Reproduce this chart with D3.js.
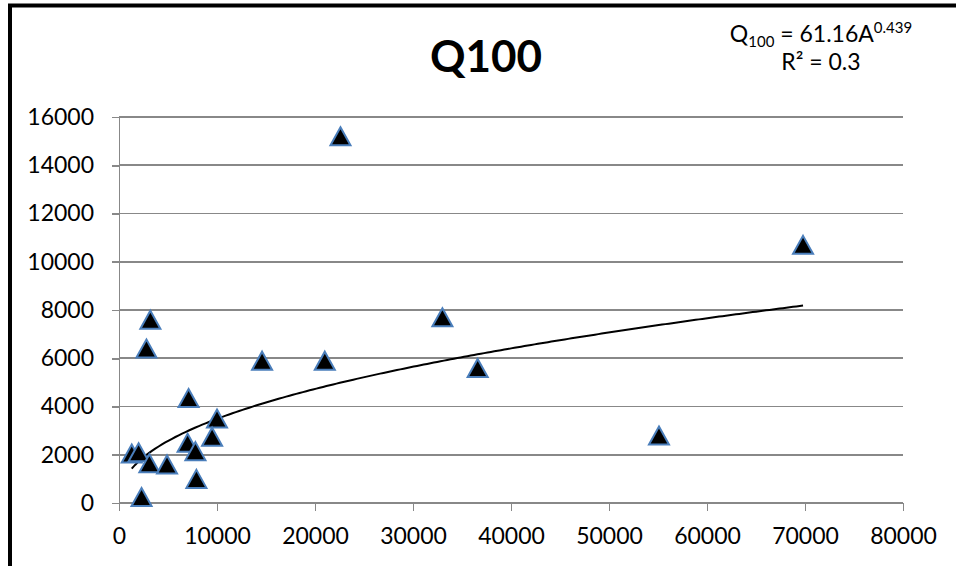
<!DOCTYPE html>
<html lang="en">
<head>
    <meta charset="UTF-8">
    <title>Q100</title>
    <script src="https://cdn.jsdelivr.net/npm/d3@7"></script>
    <style>
        body {
            margin: 0;
            background: #fff;
        }
        text {
            font-family: Lato, "Open Sans", sans-serif;
            fill: #000;
        }
        .grid line {
            stroke: #888;
            stroke-width: 1.6px;
            shape-rendering: crispEdges;
        }
        .axis path,
        .axis line {
            fill: none;
            stroke: #888;
            stroke-width: 1.6px;
            shape-rendering: crispEdges;
        }
        .axis text {
            font-size: 23px;
        }
    </style>
</head>
<body>
<script>
    // drainage area (x) and Q100 (y)
    var area = [22600, 69800, 3200, 33000, 2800, 14600, 21000, 36600, 7100, 10000,
                9500, 7000, 7800, 1300, 2000, 3100, 4900, 7900, 2300, 55100];
    var q100 = [15200, 10700, 7600, 7700, 6400, 5900, 5900, 5600, 4350, 3500,
                2750, 2500, 2150, 2050, 2100, 1650, 1600, 1000, 250, 2800];

    var xTicks = [0, 10000, 20000, 30000, 40000, 50000, 60000, 70000, 80000];
    var yTicks = [0, 2000, 4000, 6000, 8000, 10000, 12000, 14000, 16000];

    // power trendline from the equation on the chart
    var coefA = 61.16, expB = 0.439, rSquared = 0.3;

    var width = 956, height = 566;
    var plot = {left: 119, right: 903, top: 117, bottom: 503};

    var svg = d3.select("body").append("svg")
            .attr("width", width)
            .attr("height", height);

    // outer chart frame (only top and left edges show in the crop)
    svg.append("path")
            .attr("d", "M10,570 L10,5.5 L960,5.5")
            .attr("fill", "none")
            .attr("stroke", "#000")
            .attr("stroke-width", 4);

    var x = d3.scaleLinear().domain([0, 80000]).range([plot.left, plot.right]);
    var y = d3.scaleLinear().domain([0, 16000]).range([plot.bottom, plot.top]);

    // horizontal gridlines
    svg.append("g")
            .attr("class", "grid")
            .selectAll("line")
            .data(yTicks)
            .enter().append("line")
            .attr("x1", plot.left)
            .attr("x2", plot.right)
            .attr("y1", function (d) { return y(d); })
            .attr("y2", function (d) { return y(d); });

    var yAxis = d3.axisLeft(y)
            .tickValues(yTicks)
            .tickFormat(d3.format("d"))
            .tickSizeInner(7)
            .tickSizeOuter(0)
            .tickPadding(18);

    var xAxis = d3.axisBottom(x)
            .tickValues(xTicks)
            .tickFormat(d3.format("d"))
            .tickSizeInner(8)
            .tickSizeOuter(0)
            .tickPadding(17);

    svg.append("g")
            .attr("class", "y axis")
            .attr("transform", "translate(" + plot.left + ",0)")
            .call(yAxis);

    svg.append("g")
            .attr("class", "x axis")
            .attr("transform", "translate(0," + plot.bottom + ")")
            .call(xAxis);

    // trendline over the range of the data
    var xMin = d3.min(area), xMax = d3.max(area);
    var trend = d3.range(0, 201).map(function (i) {
        var a = xMin + (xMax - xMin) * i / 200;
        return [a, coefA * Math.pow(a, expB)];
    });

    svg.append("path")
            .datum(trend)
            .attr("fill", "none")
            .attr("stroke", "#000")
            .attr("stroke-width", 2)
            .attr("d", d3.line()
                    .x(function (d) { return x(d[0]); })
                    .y(function (d) { return y(d[1]); }));

    // triangle markers
    var tw = 20, th = 18;
    svg.append("g")
            .selectAll("path")
            .data(area.map(function (d, i) { return [d, q100[i]]; }))
            .enter().append("path")
            .attr("transform", function (d) {
                return "translate(" + x(d[0]) + "," + y(d[1]) + ")";
            })
            .attr("d", "M0," + (-th / 2) + "L" + (tw / 2) + "," + (th / 2) + "L" + (-tw / 2) + "," + (th / 2) + "Z")
            .attr("fill", "#000")
            .attr("stroke", "#4a7ebb")
            .attr("stroke-width", 2)
            .attr("stroke-linejoin", "miter");

    // title
    svg.append("text")
            .attr("x", 486)
            .attr("y", 72)
            .attr("text-anchor", "middle")
            .style("font-size", "44px")
            .style("font-weight", "bold")
            .text("Q100");

    // equation
    var eq = svg.append("text")
            .attr("x", 821)
            .attr("y", 42)
            .attr("text-anchor", "middle")
            .style("font-size", "23px");
    eq.append("tspan").text("Q");
    eq.append("tspan").attr("dy", 5).style("font-size", "15px").text("100");
    eq.append("tspan").attr("dy", -5).text(" = " + coefA + "A");
    eq.append("tspan").attr("dy", -9).style("font-size", "15px").text(expB);

    svg.append("text")
            .attr("x", 821)
            .attr("y", 70)
            .attr("text-anchor", "middle")
            .style("font-size", "23px")
            .text("R\u00b2 = " + rSquared);
</script>
</body>
</html>
